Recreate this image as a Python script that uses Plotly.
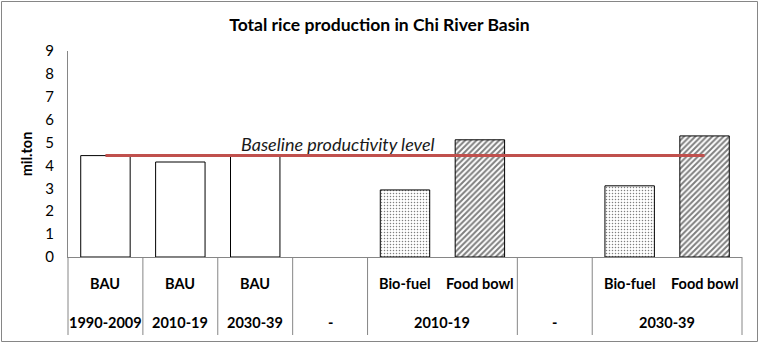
import plotly.graph_objects as go

# Chart data
scenarios = ["BAU", "BAU", "BAU", "", "Bio-fuel", "Food bowl", "", "Bio-fuel", "Food bowl"]
periods = ["1990-2009", "2010-19", "2030-39", "-", "2010-19", "2010-19", "-", "2030-39", "2030-39"]
production = [4.43, 4.15, 4.40, None, 2.93, 5.12, None, 3.11, 5.29]
baseline_level = 4.43
y_ticks = [0, 1, 2, 3, 4, 5, 6, 7, 8, 9]

FONT = "Lato"
GRID_GREY = "#868686"
W, H = 759, 343
M = dict(l=68, r=17, t=51, b=86)
PW = W - M["l"] - M["r"]
PH = H - M["t"] - M["b"]

n = len(scenarios)
xs = list(range(n))
pattern_for = {"BAU": "", "Bio-fuel": ".", "Food bowl": "/"}
shapes_list = [pattern_for.get(s, "") for s in scenarios]

fig = go.Figure()
fig.add_trace(go.Bar(
    x=xs, y=production, width=0.66,
    marker=dict(
        color="white",
        line=dict(color="black", width=1),
        pattern=dict(shape=shapes_list, fgcolor="black", bgcolor="white",
                     size=[4 if s == "/" else 3 for s in shapes_list],
                     solidity=[0.5 if s == "/" else 0.2 for s in shapes_list],
                     fillmode="overlay"),
    ),
    hoverinfo="skip", showlegend=False,
))

# Baseline productivity line across the bars
fig.add_trace(go.Scatter(
    x=[xs[0], xs[-1]], y=[baseline_level, baseline_level], mode="lines",
    line=dict(color="#C0504D", width=3), hoverinfo="skip", showlegend=False,
))

annotations = [dict(
    x=3.1, y=baseline_level, xref="x", yref="y", xanchor="center", yanchor="bottom", yshift=-1,
    text="Baseline productivity level", showarrow=False,
    font=dict(family=FONT, size=18, color="#1a1a1a", style="italic"),
)]

def to_paper_x(v):
    return (v + 0.5) / n

row1_y = -(283 - 257) / PH
row2_y = -(322 - 257) / PH
table_bottom = -(335 - 257) / PH
label_font = dict(family=FONT, size=14.5, color="black", weight="bold")

# scenario row
for i, s in enumerate(scenarios):
    if s:
        annotations.append(dict(x=to_paper_x(i), y=row1_y, xref="paper", yref="paper",
                                text=s, showarrow=False, xanchor="center", yanchor="middle",
                                font=label_font))

# period row: merge consecutive identical periods into groups
groups = []
start = 0
for i in range(1, n + 1):
    if i == n or periods[i] != periods[start] or scenarios[i] == "BAU" or scenarios[start] == "BAU":
        groups.append((periods[start], start, i - 1))
        start = i

shapes = []
bounds = {-0.5}
for label, a, b in groups:
    annotations.append(dict(x=to_paper_x((a + b) / 2), y=row2_y, xref="paper", yref="paper",
                            text=label, showarrow=False, xanchor="center", yanchor="middle",
                            font=label_font))
    bounds.add(b + 0.5)

for bnd in sorted(bounds):
    xp = to_paper_x(bnd)
    shapes.append(dict(type="line", xref="paper", yref="paper", x0=xp, x1=xp,
                       y0=0, y1=table_bottom, line=dict(color=GRID_GREY, width=1)))

# outer chart frame
shapes.append(dict(type="rect", xref="paper", yref="paper",
                   x0=(1.5 - M["l"]) / PW, x1=(W - 1.5 - M["l"]) / PW,
                   y0=-(H - 1.5 - (H - M["b"])) / PH, y1=1 + (M["t"] - 1.5) / PH,
                   line=dict(color=GRID_GREY, width=1), fillcolor="rgba(0,0,0,0)"))

fig.update_layout(
    width=W, height=H, margin=M,
    paper_bgcolor="white", plot_bgcolor="white",
    title=dict(text="Total rice production in Chi River Basin", x=0.5, xref="container",
               xanchor="center", y=1 - 25 / H, yanchor="middle",
               font=dict(family=FONT, size=17.5, color="black", weight="bold")),
    xaxis=dict(range=[-0.5, n - 0.5], showticklabels=False, ticks="", showgrid=False,
               zeroline=False, showline=True, linecolor=GRID_GREY, linewidth=1),
    yaxis=dict(range=[0, 9], tickvals=y_ticks, showgrid=False, zeroline=False,
               showline=True, linecolor=GRID_GREY, linewidth=1, ticks="",
               ticklabelstandoff=10,
               tickfont=dict(family=FONT, size=15, color="black"),
               title=dict(text="mil.ton", standoff=9,
                          font=dict(family=FONT, size=14.5, color="black", weight="bold"))),
    annotations=annotations, shapes=shapes, bargap=0.34,
)

fig.write_html("out.html")
